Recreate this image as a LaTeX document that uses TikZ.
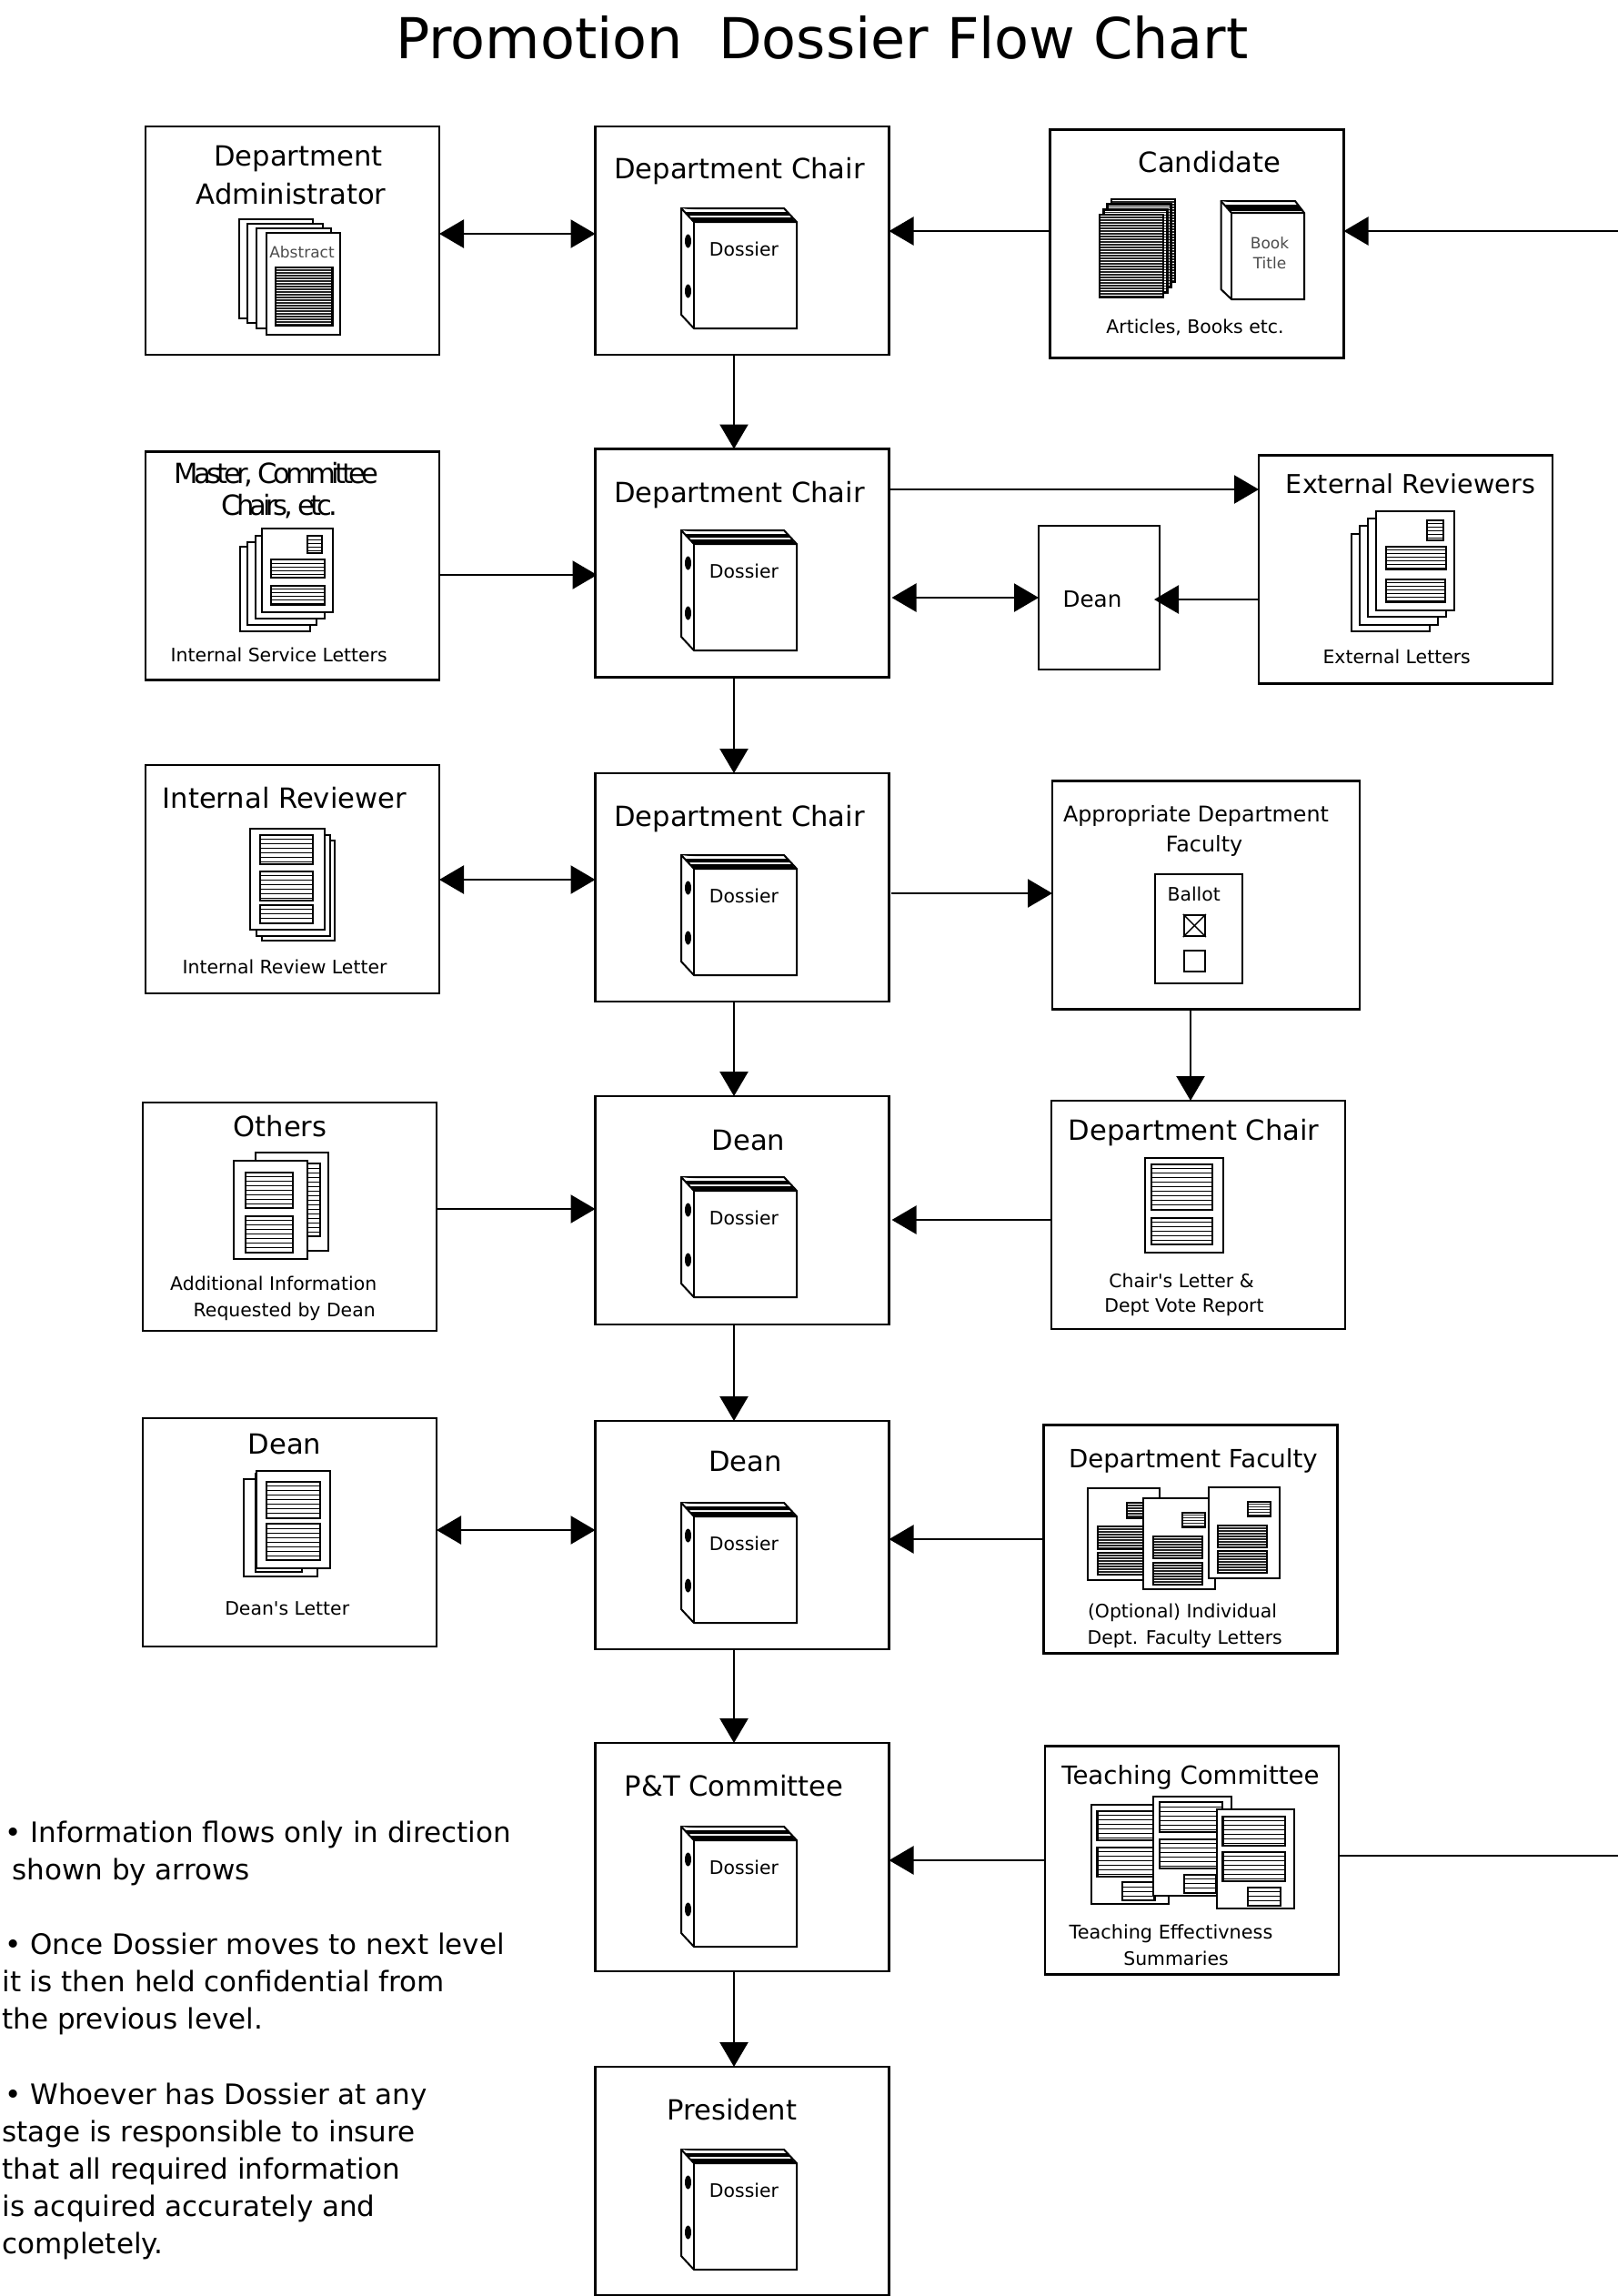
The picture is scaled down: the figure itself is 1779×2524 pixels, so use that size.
\documentclass[tikz,border=0pt]{standalone}
\usepackage{fontspec}
\setmainfont[Ligatures=TeXOff]{DejaVu Sans}
\newfontfamily\tightfont[LetterSpace=-15]{DejaVu Sans}
\usetikzlibrary{arrows.meta}

\tikzset{
    box/.style={draw, line width=1.15pt, fill=white, outer sep=0pt, inner sep=0pt,
        minimum width=161.5pt, minimum height=125.5pt},
    flow/.style={line width=1.2pt, -{Triangle[length=13.5pt, width=15.5pt]}},
    twoway/.style={line width=1.2pt, {Triangle[length=13.5pt, width=15.5pt]}-{Triangle[length=13.5pt, width=15.5pt]}},
    plainline/.style={line width=1.2pt},
    sheet/.style={draw, fill=white, line width=1pt, line join=miter},
    ruled/.style={line width=0.5pt},
    dense/.style={line width=0.72pt, black!85},
    blockedge/.style={line width=1.2pt},
    head/.style={inner sep=0pt, font=\fontsize{15.3}{18}\selectfont},
    subhead/.style={inner sep=0pt, font=\fontsize{13.8}{16}\selectfont},
    midtext/.style={inner sep=0pt, font=\fontsize{11.9}{14}\selectfont},
    smalltext/.style={inner sep=0pt, font=\fontsize{10.2}{12}\selectfont},
    thintext/.style={inner sep=0pt, text=black!70, font=\fontsize{8.5}{10}\selectfont},
    remark/.style={inner sep=0pt, anchor=north west, align=left, font=\fontsize{15.5}{20.5}\selectfont},
    dossier/.pic={
        \filldraw[sheet] (0,0) -- (113,0) -- (127,15) -- (127,132) -- (14,132) -- (0,117) -- cycle;
        \draw[sheet] (0,0) -- (14,15) -- (127,15);
        \draw[sheet] (14,15) -- (14,132);
        \fill (4,4) -- (116.5,4) -- (120,8) -- (8,8) -- cycle;
        \fill (9,10) -- (121.5,10) -- (125,14) -- (13,14) -- cycle;
        \fill (7.5,36) ellipse [x radius=3.5, y radius=7.5];
        \fill (7.5,91) ellipse [x radius=3.5, y radius=7.5];
        \node[smalltext] (-tag) at (69,45) {Dossier};
    }
}

% white page of a document
\newcommand{\paper}[4]{\filldraw[sheet] (#1,#2) rectangle (#3,#4);}
% block of text lines on a page: [line style] x1 y1 x2 y2 spacing
\newcommand{\block}[6][ruled]{
    \begin{scope}
        \clip (#2,#3) rectangle (#4,#5);
        \foreach \k in {1,...,30} \draw[#1] (#2,#3+\k*#6) -- (#4,#3+\k*#6);
    \end{scope}
    \draw[blockedge] (#2,#3) rectangle (#4,#5);
}

\begin{document}
\begin{tikzpicture}[x=0.5pt, y=-0.5pt]
    \useasboundingbox (0,0) rectangle (1779,2524);

    \node[inner sep=0pt, font=\fontsize{31}{36}\selectfont] (title) at (904,41) {Promotion\ \ Dossier Flow Chart};

    % Middle column
    \node[box] (chairA) at (816,264.5) {};
    \node[box] (chairB) at (816,619) {};
    \node[box] (chairC) at (816,975.5) {};
    \node[box] (deanA) at (816,1330.5) {};
    \node[box] (deanB) at (816,1687.5) {};
    \node[box] (ptcom) at (816,2041.5) {};
    \node[box] (president) at (816,2397.5) {};

    % Left column
    \node[box] (admin) at (321.5,264.5) {};
    \node[box] (service) at (321.5,622) {};
    \node[box] (reviewer) at (321.5,966.5) {};
    \node[box] (others) at (318.5,1337.5) {};
    \node[box] (deanlet) at (318.5,1684.5) {};

    % Right column
    \node[box] (cand) at (1316,268) {};
    \node[box] (extern) at (1545.5,626) {};
    \node[box, minimum width=66.5pt, minimum height=79pt] (deansm) at (1208.5,657) {};
    \node[box, minimum width=169pt] (approp) at (1326,984) {};
    \node[box] (chairR) at (1317.5,1335.5) {};
    \node[box] (faculty) at (1309,1692) {};
    \node[box] (teach) at (1310.5,2045) {};

    % Box titles
    \node[head] (chairAt) at (813,188) {Department Chair};
    \node[head] (chairBt) at (813,544) {Department Chair};
    \node[head] (chairCt) at (813,900) {Department Chair};
    \node[head] (deanAt) at (823,1254) {Dean};
    \node[head] (deanBt) at (819.5,1607) {Dean};
    \node[head] (ptcomt) at (807,1963) {P\&T Committee};
    \node[head] (presidentt) at (805,2319) {President};
    \node[head] (admint) at (328,174.7) {Department};
    \node[head] (admintb) at (320,212.7) {Administrator};
    \node[head, font=\tightfont\fontsize{15.3}{18}\selectfont] (servicet) at (304,521.5) {Master, Committee};
    \node[head, font=\tightfont\fontsize{15.3}{18}\selectfont] (servicetb) at (307,557) {Chairs, etc.};
    \node[head] (reviewert) at (312.7,877) {Internal Reviewer};
    \node[head] (otherst) at (308,1238) {Others};
    \node[head] (deanlett) at (313,1587.2) {Dean};
    \node[head] (candt) at (1330,177.7) {Candidate};
    \node[subhead, font=\fontsize{14.3}{16}\selectfont] (externt) at (1551,531.7) {External Reviewers};
    \node[subhead, font=\fontsize{12.3}{14}\selectfont] (deansmt) at (1201,659) {Dean};
    \node[midtext] (appropt) at (1315,897) {Appropriate Department};
    \node[midtext] (approptb) at (1324,930) {Faculty};
    \node[head] (chairRt) at (1312.7,1245) {Department Chair};
    \node[subhead] (facultyt) at (1312,1606) {Department Faculty};
    \node[subhead] (teacht) at (1309,1953.5) {Teaching Committee};

    % Binders
    \pic (dosA) at (749,229) {dossier};
    \pic (dosB) at (749,583) {dossier};
    \pic (dosC) at (749,940) {dossier};
    \pic (dosD) at (749,1294) {dossier};
    \pic (dosE) at (749,1652) {dossier};
    \pic (dosF) at (749,2008) {dossier};
    \pic (dosG) at (749,2363) {dossier};

    % Abstract pages
    \paper{262.6}{240.7}{343.6}{350}
    \paper{272}{246}{355}{355}
    \paper{282}{251}{363.5}{361}
    \paper{292.7}{256}{373.6}{368}
    \node[thintext] (abstr) at (332,277) {Abstract};
    \block[dense]{303}{294}{365.4}{358}{3}

    % Articles and book
    \foreach \i in {3,2,1,0} {
        \filldraw[sheet] (1209+4.3*\i,236-5.7*\i) rectangle (1279+4.3*\i,327-5.7*\i);
        \block[dense]{1209+4.3*\i}{236-5.7*\i}{1279+4.3*\i}{327-5.7*\i}{3}
    }
    \filldraw[sheet] (1342.5,221) -- (1424,221) -- (1434,234) -- (1434,329) -- (1354,329) -- (1342.5,318) -- cycle;
    \draw[sheet] (1342.5,221) -- (1354,234) -- (1434,234);
    \draw[sheet] (1354,234) -- (1354,329);
    \fill (1346,225) -- (1426,225) -- (1432,232) -- (1352,232) -- cycle;
    \node[thintext] (bookt) at (1396,267) {Book};
    \node[thintext] (booktb) at (1396,289) {Title};
    \node[smalltext] (candc) at (1314,360) {Articles, Books etc.};

    % Service letters
    \paper{264}{600.7}{341}{694}
    \paper{272}{595.7}{348}{687}
    \paper{280.7}{588.7}{357}{680}
    \paper{287.7}{580.7}{366}{673}
    \block{338}{589}{354}{608}{4}
    \block{297.7}{615}{357}{635}{4}
    \block{297.7}{643.7}{357}{665}{4}
    \node[smalltext] (servicec) at (306.7,720) {Internal Service Letters};

    % External letters
    \paper{1486}{586.7}{1572}{694}
    \paper{1495}{578}{1581}{686.7}
    \paper{1504}{570}{1590}{678}
    \paper{1513}{561.7}{1599}{671}
    \block{1569}{571.7}{1587}{594}{4}
    \block{1523.7}{600.7}{1590}{626}{4}
    \block{1523.7}{636.7}{1588.7}{662}{4}
    \node[smalltext] (externc) at (1535.7,722) {External Letters};

    % Internal review letter
    \paper{288}{923.7}{368}{1034}
    \paper{281.7}{918}{363}{1029}
    \paper{275}{910.7}{356.7}{1022}
    \block{285.7}{917.7}{343.7}{950}{5}
    \block{285.7}{957.7}{343.7}{990}{5}
    \block{285.7}{994.7}{343.7}{1015}{5}
    \node[smalltext] (reviewerc) at (313,1063) {Internal Review Letter};

    % Ballot
    \node[draw, line width=1pt, minimum width=48pt, minimum height=60pt, inner sep=0pt] (ballot) at (1318,1021) {};
    \node[smalltext] (ballott) at (1312.7,983) {Ballot};
    \node[draw, line width=1pt, minimum width=11.5pt, minimum height=11.5pt, inner sep=0pt] (yesbox) at (1313.3,1017.5) {};
    \draw[line width=0.7pt] (yesbox.north west) -- (yesbox.south east);
    \draw[line width=0.7pt] (yesbox.north east) -- (yesbox.south west);
    \node[draw, line width=1pt, minimum width=11.5pt, minimum height=11.5pt, inner sep=0pt] (nobox) at (1313.3,1056.5) {};

    % Additional information
    \paper{280.7}{1266.7}{361}{1375}
    \block{300}{1279}{352}{1359}{5}
    \paper{256.7}{1275.7}{338}{1384}
    \block{270}{1288.7}{322}{1328}{5}
    \block{270}{1336.7}{322}{1377}{5}
    \node[smalltext] (othersc) at (300.7,1410.5) {Additional Information};
    \node[smalltext] (otherscb) at (312.7,1442) {Requested by Dean};

    % Chair's letter
    \paper{1259}{1272.7}{1345}{1377}
    \block{1265.7}{1279.7}{1332.7}{1330}{5}
    \block{1265.7}{1338.7}{1332.7}{1368}{5}
    \node[smalltext] (chairRc) at (1299,1407.7) {Chair's Letter \&};
    \node[smalltext] (chairRcb) at (1302,1437.5) {Dept Vote Report};

    % Dean's letter
    \paper{267.7}{1625.7}{348.7}{1733}
    \paper{280.7}{1620}{332}{1727.7}
    \paper{281.7}{1616.7}{363}{1724}
    \block{292.7}{1628.7}{352}{1669}{5}
    \block{292.7}{1675}{352}{1715}{5}
    \node[smalltext] (deanletc) at (315.7,1768) {Dean's Letter};

    % Faculty letters
    \paper{1195.7}{1636}{1275}{1737}
    \block[dense]{1238.7}{1652}{1265}{1669}{3}
    \block[dense]{1206.7}{1678}{1265}{1703}{3}
    \block[dense]{1206.7}{1707}{1265}{1731}{3}
    \paper{1256.7}{1646.7}{1336}{1747}
    \block[dense]{1299.7}{1662.7}{1325}{1679}{3}
    \block[dense]{1267.7}{1689}{1321.7}{1713}{3}
    \block[dense]{1267.7}{1718}{1321.7}{1742}{3}
    \paper{1329}{1634.7}{1407}{1735}
    \block[dense]{1371.7}{1650.7}{1397}{1667}{3}
    \block[dense]{1338.7}{1677}{1393}{1701}{3}
    \block[dense]{1338.7}{1705}{1393}{1729}{3}
    \node[smalltext] (facultyc) at (1300,1773) {(Optional) Individual};
    \node[smalltext] (facultycb) at (1302.7,1801.5) {Dept. Faculty Letters};

    % Teaching summaries
    \paper{1200}{1984}{1285}{2092.7}
    \block{1206.4}{1990.7}{1270}{2023}{5}
    \block{1206.4}{2030.7}{1270}{2063}{5}
    \block{1233.7}{2069}{1269.6}{2089}{5}
    \paper{1268}{1974.7}{1354}{2083.7}
    \block{1275}{1981}{1343.7}{2014}{5}
    \block{1275}{2021.7}{1343.7}{2054}{5}
    \block{1301.8}{2060.7}{1337.6}{2081}{5}
    \paper{1337.6}{1989}{1423}{2098}
    \block{1344.6}{1996.7}{1413}{2029}{5}
    \block{1344.6}{2035.7}{1413}{2068}{5}
    \block{1372}{2074.7}{1407.7}{2095}{5}
    \node[smalltext, font=\fontsize{10.4}{12}\selectfont] (teachc) at (1287.5,2126) {Teaching Effectivness};
    \node[smalltext] (teachcb) at (1293,2153) {Summaries};

    % Notes
    \node[remark] (noteA) at (2,2002) {\hspace{1.5pt}• Information flows only in direction\\\hspace{5.5pt}shown by arrows};
    \node[remark] (noteB) at (2,2125) {\hspace{1.5pt}• Once Dossier moves to next level\\it is then held confidential from\\the previous level.};
    \node[remark] (noteC) at (2,2290) {\hspace{1.5pt}• Whoever has Dossier at any\\stage is responsible to insure\\that all required information\\is acquired accurately and\\completely.};

    % Free ends at the page edge
    \coordinate (inEnd) at (1779,254);
    \coordinate (outEnd) at (1779,2040);

    % Connectors
    \draw[flow] (inEnd) -- (cand.east |- inEnd);
    \draw[flow] (cand.west |- inEnd) -- (chairA.east |- inEnd);
    \draw[twoway] (admin.east |- 0,257) -- (chairA.west |- 0,257);
    \draw[flow] (807,0 |- chairA.south) -- (807,0 |- chairB.north);
    \draw[flow] (service.east |- 0,632) -- ([xshift=1pt]chairB.west |- 0,632);
    \draw[flow] (chairB.east |- 0,538) -- (extern.west |- 0,538);
    \draw[twoway] ([xshift=1.5pt]chairB.east |- 0,657) -- (deansm.west |- 0,657);
    \draw[flow] (extern.west |- 0,659) -- ([xshift=-3pt]deansm.east |- 0,659);
    \draw[flow] (807,0 |- chairB.south) -- (807,0 |- chairC.north);
    \draw[twoway] (reviewer.east |- 0,967) -- (chairC.west |- 0,967);
    \draw[flow] ([xshift=1pt]chairC.east |- 0,982) -- (approp.west |- 0,982);
    \draw[flow] (1309,0 |- approp.south) -- (1309,0 |- chairR.north);
    \draw[flow] (807,0 |- chairC.south) -- (807,0 |- deanA.north);
    \draw[flow] (others.east |- 0,1329) -- (deanA.west |- 0,1329);
    \draw[flow] (chairR.west |- 0,1341) -- ([xshift=1.5pt]deanA.east |- 0,1341);
    \draw[flow] (807,0 |- deanA.south) -- (807,0 |- deanB.north);
    \draw[twoway] (deanlet.east |- 0,1682) -- (deanB.west |- 0,1682);
    \draw[flow] (faculty.west |- 0,1692) -- (deanB.east |- 0,1692);
    \draw[flow] (807,0 |- deanB.south) -- (807,0 |- ptcom.north);
    \draw[flow] (teach.west |- 0,2045) -- (ptcom.east |- 0,2045);
    \draw[plainline] (teach.east |- outEnd) -- (outEnd);
    \draw[flow] (807,0 |- ptcom.south) -- (807,0 |- president.north);
\end{tikzpicture}
\end{document}
